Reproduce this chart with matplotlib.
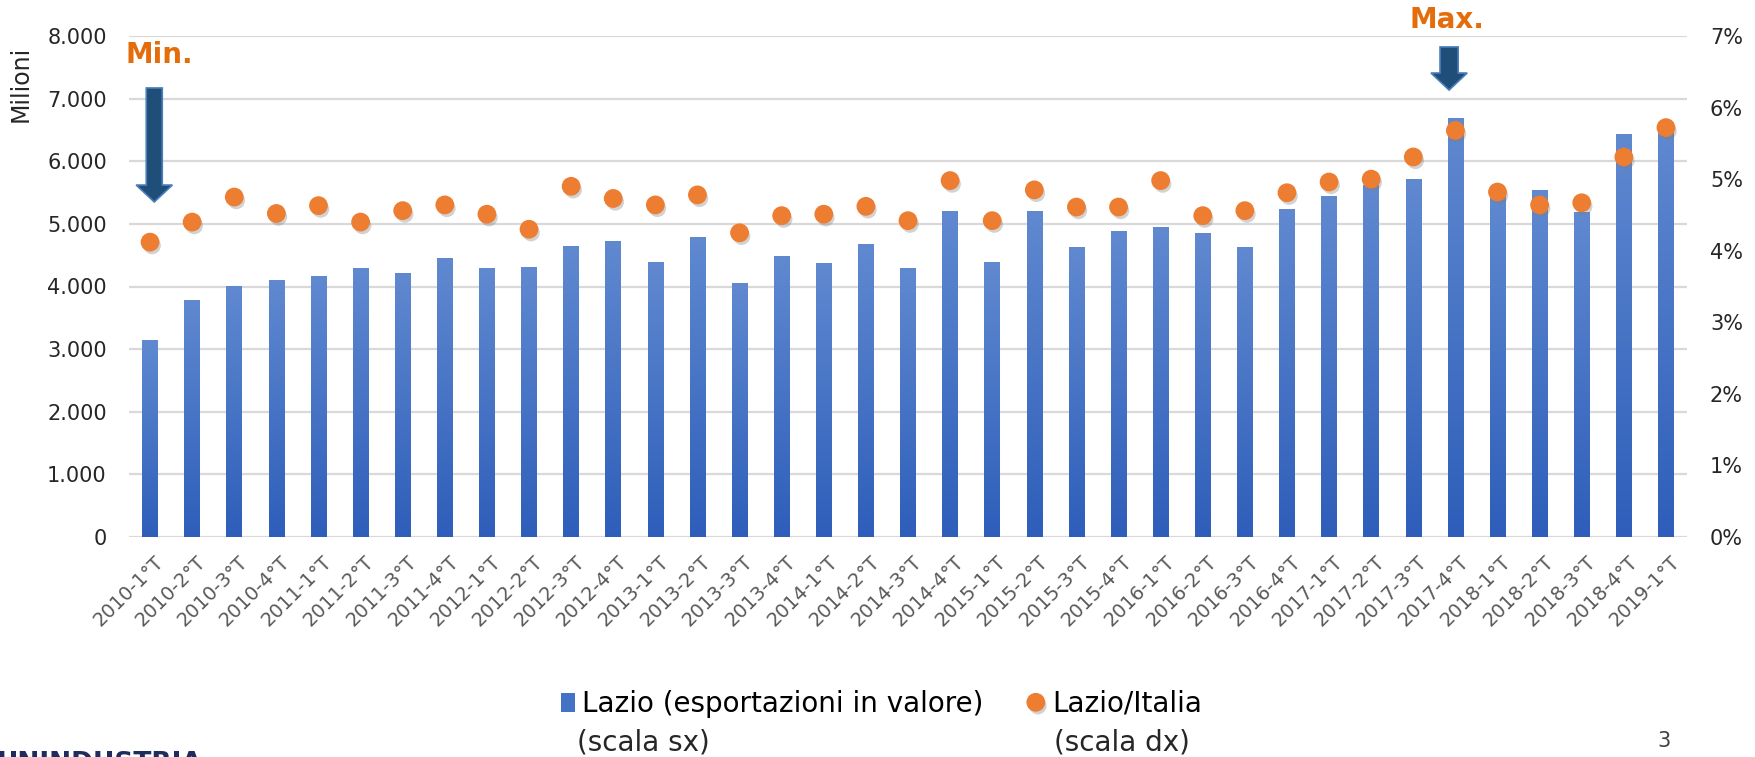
"""
Lazio: esportazioni trimestrali (milioni) e quota su Italia
barre = scala sx, punti = scala dx
"""

import numpy as np
import matplotlib
matplotlib.use('Agg')
import matplotlib.pyplot as plt
import matplotlib.patheffects as pe
from matplotlib.colors import LinearSegmentedColormap
from matplotlib.patches import FancyArrow
from matplotlib.ticker import FuncFormatter
from matplotlib.transforms import ScaledTranslation

periodi = ['2010-1°T', '2010-2°T', '2010-3°T', '2010-4°T',
           '2011-1°T', '2011-2°T', '2011-3°T', '2011-4°T',
           '2012-1°T', '2012-2°T', '2012-3°T', '2012-4°T',
           '2013-1°T', '2013-2°T', '2013-3°T', '2013-4°T',
           '2014-1°T', '2014-2°T', '2014-3°T', '2014-4°T',
           '2015-1°T', '2015-2°T', '2015-3°T', '2015-4°T',
           '2016-1°T', '2016-2°T', '2016-3°T', '2016-4°T',
           '2017-1°T', '2017-2°T', '2017-3°T', '2017-4°T',
           '2018-1°T', '2018-2°T', '2018-3°T', '2018-4°T',
           '2019-1°T']

# esportazioni Lazio in valore (milioni di euro)
export_lazio = [3140, 3780, 4005, 4100, 4165, 4280, 4215, 4455,
                4295, 4310, 4645, 4725, 4390, 4790, 4055, 4485,
                4360, 4675, 4295, 5190, 4390, 5190, 4615, 4885,
                4950, 4840, 4615, 5235, 5430, 5620, 5715, 6675,
                5510, 5540, 5175, 6420, 6550]

# quota Lazio/Italia (%)
quota_lazio = [4.12, 4.40, 4.75, 4.52, 4.63, 4.40, 4.56, 4.64,
               4.51, 4.30, 4.90, 4.73, 4.64, 4.78, 4.25, 4.49,
               4.51, 4.62, 4.42, 4.98, 4.42, 4.85, 4.61, 4.61,
               4.98, 4.49, 4.56, 4.81, 4.96, 5.00, 5.31, 5.68,
               4.82, 4.64, 4.67, 5.31, 5.72]

BLU = '#4472C4'
ARANCIO = '#ED7D31'
TESTO_EVID = '#E46C0A'
NERO = '#262626'

fig = plt.figure(figsize=(17.55, 7.57), dpi=100)
ax = fig.add_axes([129 / 1755, 1 - 537 / 757, 1558 / 1755, 501 / 757])
x = np.arange(len(periodi))

bars = ax.bar(x, export_lazio, width=0.37, color=BLU, zorder=2,
              label='Lazio (esportazioni in valore)')

# sfumatura tipo Excel su ogni barra
cmap = LinearSegmentedColormap.from_list('grad', ['#6089D0', '#2E5EBA'])
grad = np.linspace(0, 1, 256).reshape(-1, 1)
for b in bars:
    ax.imshow(grad, extent=[b.get_x(), b.get_x() + b.get_width(), 0, b.get_height()],
              aspect='auto', cmap=cmap, zorder=2.1, interpolation='bicubic')

ax.set_xlim(-0.5, len(periodi) - 0.5)
ax.set_ylim(0, 8000)
ax.set_yticks(np.arange(0, 8001, 1000))
ax.yaxis.set_major_formatter(FuncFormatter(lambda v, p: f'{int(v):,}'.replace(',', '.')))
ax.yaxis.grid(True, color='#D9D9D9', lw=1.6)
ax.set_axisbelow(True)
ax.set_xticks(x)
ax.set_xticklabels(periodi, rotation=45, ha='right', rotation_mode='anchor',
                   fontsize=14, color='#595959')
ax.tick_params(axis='x', length=0, pad=11)
# sposto un poco a destra le etichette ruotate
for lbl in ax.get_xticklabels():
    lbl.set_transform(lbl.get_transform() + ScaledTranslation(4 / 100, 0, fig.dpi_scale_trans))
ax.tick_params(axis='y', length=0, pad=16, labelsize=15, labelcolor=NERO)
for s in ax.spines.values():
    s.set_visible(False)
ax.set_ylabel('Milioni', fontsize=17, color=NERO)
ax.yaxis.set_label_coords(-0.062, 0.904)

# frecce min / max
ax.add_patch(FancyArrow(0.1, 7170, 0, -1820, width=0.38, head_width=0.86,
                        head_length=270, length_includes_head=True,
                        fc='#1F4E79', ec='#4A7EBB', lw=1.2, zorder=4))
ax.add_patch(FancyArrow(30.85, 7825, 0, -688, width=0.43, head_width=0.86,
                        head_length=272, length_includes_head=True,
                        fc='#1F4E79', ec='#4A7EBB', lw=1.2, zorder=4, clip_on=False))
ax.text(0.21, 7700, 'Min.', ha='center', va='center', fontsize=20,
        fontweight='bold', color=TESTO_EVID)
ax.text(30.8, 8255, 'Max.', ha='center', va='center', fontsize=20,
        fontweight='bold', color=TESTO_EVID, clip_on=False)

ax2 = ax.twinx()
punti, = ax2.plot(x, quota_lazio, 'o', ms=12.5, color=ARANCIO, mec=ARANCIO,
                  label='Lazio/Italia', zorder=5,
                  path_effects=[pe.SimplePatchShadow(offset=(1.5, -2.5), shadow_rgbFace='#7F7F7F', alpha=0.35),
                                pe.Normal()])
ax2.set_ylim(0, 7)
ax2.set_yticks(np.arange(0, 8))
ax2.yaxis.set_major_formatter(FuncFormatter(lambda v, p: f'{int(v)}%'))
ax2.tick_params(axis='y', length=0, pad=16.5, labelsize=15, labelcolor=NERO)
for s in ax2.spines.values():
    s.set_visible(False)

# legenda in basso, su due righe
leg1 = fig.legend(handles=[bars], loc='center left', bbox_to_anchor=(561 / 1755, 1 - 704 / 757),
                  frameon=False, fontsize=20, borderpad=0, borderaxespad=0,
                  handlelength=0.5, handleheight=0.7, handletextpad=0.25)
leg2 = fig.legend(handles=[punti], loc='center left', bbox_to_anchor=(1024 / 1755, 1 - 704 / 757),
                  frameon=False, fontsize=20, borderpad=0, borderaxespad=0,
                  handlelength=0.85, handletextpad=0.15)
fig.text(577 / 1755, 1 - 742 / 757, '(scala sx)', fontsize=20, va='center', color=NERO)
fig.text(1054 / 1755, 1 - 742 / 757, '(scala dx)', fontsize=20, va='center', color=NERO)

fig.text(1664 / 1755, 1 - 741 / 757, '3', fontsize=15, ha='center', va='center', color='#404040')
# logo tagliato dal bordo inferiore
fig.text(-0.002, 1 - 751 / 757, 'UNINDUSTRIA', fontsize=19, fontweight='bold',
         va='top', ha='left', color='#1F2D5C')

fig.savefig('out.png', dpi=100)
